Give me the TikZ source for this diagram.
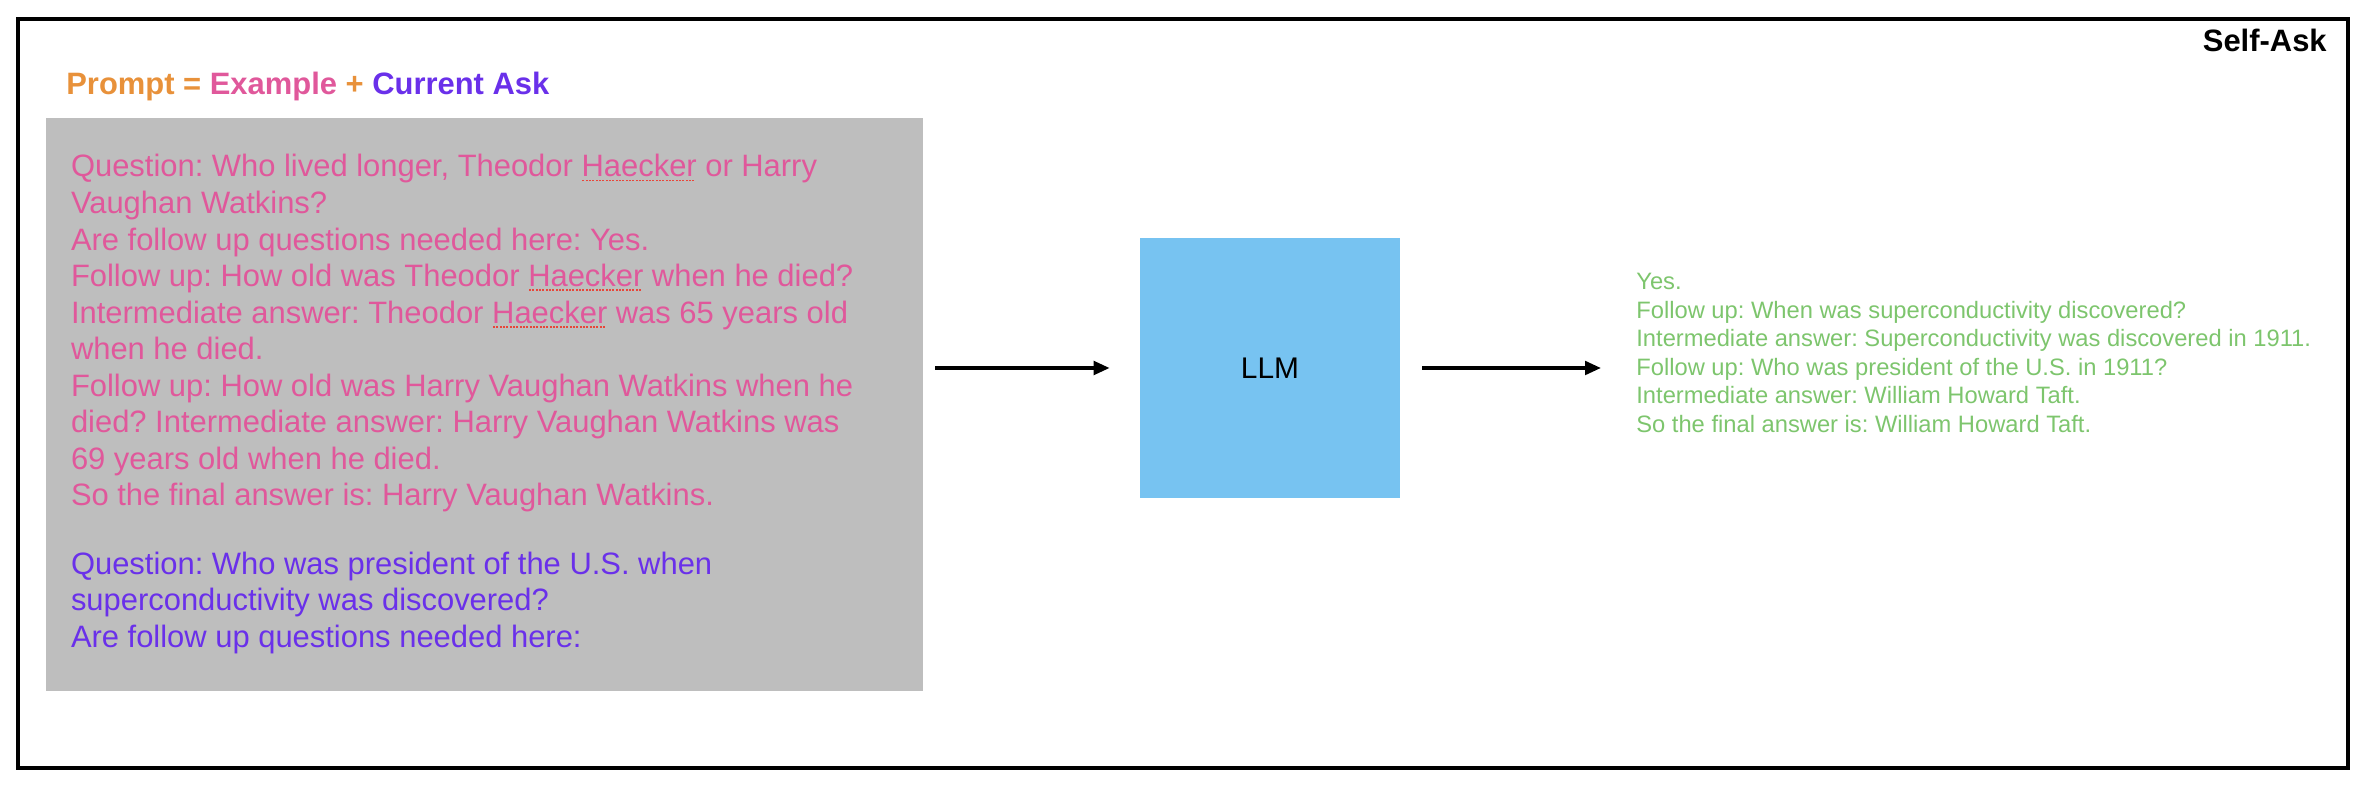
\documentclass[tikz,border=0pt]{standalone}
\usepackage{fontspec}
\setmainfont{Liberation Sans}
\frenchspacing
\definecolor{promptorange}{HTML}{E8913A}
\definecolor{examplepink}{HTML}{E0589B}
\definecolor{askpurple}{HTML}{6A30EA}
\definecolor{answergreen}{HTML}{7DC56D}
\definecolor{panelgray}{HTML}{BEBEBE}
\definecolor{llmblue}{HTML}{77C3F1}
\definecolor{spellred}{HTML}{E8463A}
\usetikzlibrary{arrows.meta,positioning,calc}

% red dotted spell-check mark under a word
\newcommand{\spellmark}[1]{\setbox0=\hbox{#1}\rlap{\raisebox{-2.6pt}{\color{spellred}\leaders\hbox to 1.9pt{\hss\rule{1.1pt}{1.1pt}\hss}\hskip\wd0}}#1}

\begin{document}
\begin{tikzpicture}[
  panel/.style={fill=panelgray, inner sep=0pt, minimum width=17.54cm, minimum height=11.46cm},
  model/.style={fill=llmblue, inner sep=0pt, minimum size=5.2cm,
    font=\fontsize{17pt}{20pt}\selectfont},
  prompttext/.style={text=#1, inner sep=0pt, align=left, anchor=north west,
    font=\fontsize{17.6pt}{20.8pt}\selectfont},
  answertext/.style={text=answergreen, inner sep=0pt, align=left, anchor=north west,
    font=\fontsize{13.5pt}{16.2pt}\selectfont},
  heading/.style={inner sep=0pt, font=\bfseries\fontsize{17.6pt}{20pt}\selectfont},
  flow/.style={-{Triangle[length=3.2mm,width=2.7mm]}, line width=2pt}
]
  \useasboundingbox (0,0) rectangle (47.28,15.76);
  \draw[line width=0.07cm] (0.36,0.40) rectangle (46.96,15.38);

  % headings
  \node[heading, anchor=base west] (formula) at (1.32,13.86)
    {\color{promptorange}Prompt = \color{examplepink}Example \color{promptorange}+ \color{askpurple}Current Ask};
  \node[heading, anchor=base east] (method) at (46.54,14.72) {Self-Ask};

  % prompt panel
  \node[panel] (prompt) at (9.69,7.67) {};
  \node[prompttext=examplepink] (example) at ([xshift=5mm, yshift=-7.3mm]prompt.north west)
    {Question: Who lived longer, Theodor \spellmark{Haecker} or Harry\\
     Vaughan Watkins?\\
     Are follow up questions needed here: Yes.\\
     Follow up: How old was Theodor \spellmark{Haecker} when he died?\\
     Intermediate answer: Theodor \spellmark{Haecker} was 65 years old\\
     when he died.\\
     Follow up: How old was Harry Vaughan Watkins when he\\
     died? Intermediate answer: Harry Vaughan Watkins was\\
     69 years old when he died.\\
     So the final answer is: Harry Vaughan Watkins.};
  \node[prompttext=askpurple, below=7.8mm of example.south west, anchor=north west] (ask)
    {Question: Who was president of the U.S. when\\
     superconductivity was discovered?\\
     Are follow up questions needed here:};

  % model and output
  \node[model] (llm) at (25.4,8.4) {LLM};
  \node[answertext] (answer) at (32.72,10.30)
    {Yes.\\
     Follow up: When was superconductivity discovered?\\
     Intermediate answer: Superconductivity was discovered in 1911.\\
     Follow up: Who was president of the U.S. in 1911?\\
     Intermediate answer: William Howard Taft.\\
     So the final answer is: William Howard Taft.};

  \draw[flow, shorten <=2.4mm, shorten >=6mm] (prompt.east |- llm.west) -- (llm.west);
  \draw[flow, shorten <=4.4mm, shorten >=7mm] (llm.east) -- (llm.east -| answer.west);
\end{tikzpicture}
\end{document}
